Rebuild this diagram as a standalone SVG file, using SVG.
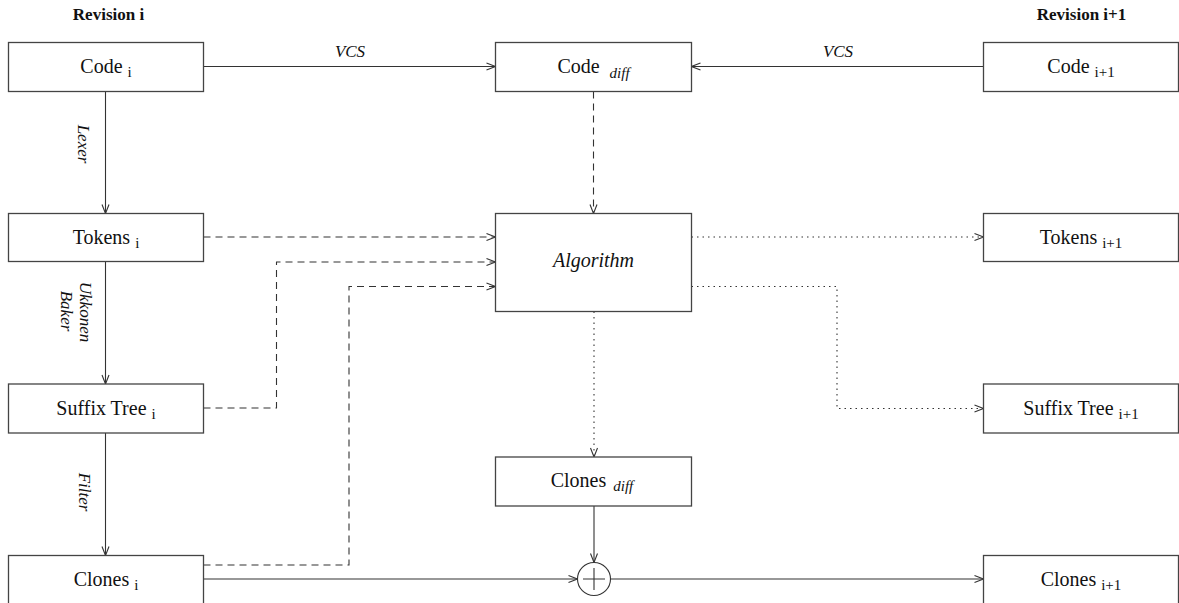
<svg xmlns="http://www.w3.org/2000/svg" width="1179" height="603" viewBox="0 0 1179 603">
<style>
  .box { fill: #fff; stroke: #444; stroke-width: 1.3; }
  .lbl { font-family: "Liberation Serif", "Times New Roman", serif; font-size: 20px; fill: #111; text-anchor: middle; }
  .sub { font-size: 15px; }
  .subi { font-size: 15px; font-style: italic; }
  .ital { font-family: "Liberation Serif", "Times New Roman", serif; font-size: 17px; font-style: italic; fill: #111; text-anchor: middle; }
  .head { font-family: "Liberation Serif", "Times New Roman", serif; font-size: 17px; font-weight: bold; fill: #111; text-anchor: middle; }
  .c { fill: none; stroke: #333; stroke-width: 1.1; }
  .solid { marker-end: url(#arr); }
  .dash { stroke-dasharray: 7 5; marker-end: url(#arr); }
  .dot { stroke-dasharray: 1.5 4; marker-end: url(#arr); }
</style>
<defs>
  <marker id="arr" markerUnits="userSpaceOnUse" markerWidth="12" markerHeight="10" viewBox="0 0 12 10" refX="11" refY="5" orient="auto">
    <path d="M2,1.5 L11,5 L2,8.5" fill="none" stroke="#333" stroke-width="1.1"/>
  </marker>
</defs>
<rect width="1179" height="603" fill="#fff"/>

<text class="head" x="108.5" y="19.5">Revision i</text>
<text class="head" x="1081.5" y="19.5">Revision i+1</text>

<g id="connectors">
  <path class="c solid" d="M203.5,66.5 H495.5"/>
  <text class="ital" x="350" y="57">VCS</text>
  <path class="c solid" d="M983.5,66.5 H691.5"/>
  <text class="ital" x="838" y="57">VCS</text>
  <path class="c solid" d="M105.5,91.5 V213.5"/>
  <text class="ital" transform="translate(78,144) rotate(90)">Lexer</text>
  <path class="c solid" d="M105.5,261.5 V384"/>
  <text class="ital" transform="translate(79.5,312) rotate(90)">Ukkonen</text>
  <text class="ital" transform="translate(60.5,311) rotate(90)">Baker</text>
  <path class="c solid" d="M105.5,433 V555.5"/>
  <text class="ital" transform="translate(78.5,492) rotate(90)">Filter</text>
  <path class="c dash" d="M203.5,237 H495.5"/>
  <path class="c dash" d="M203.5,408 H276.5 V262 H495.5"/>
  <path class="c dash" d="M203.5,565 H349 V286.5 H495.5"/>
  <path class="c dash" d="M593.5,91.5 V213.5"/>
  <path class="c dot" d="M691.5,237 H983.5"/>
  <path class="c dot" d="M691.5,286.5 H837 V408.5 H983.5"/>
  <path class="c dot" d="M594,311.5 V457"/>
  <path class="c solid" d="M594,506 V562.5"/>
  <path class="c solid" d="M203.5,579 H577.5"/>
  <path class="c solid" d="M610.5,579 H983.5"/>
</g>

<g id="code-i">
  <rect class="box" x="8.5" y="42.5" width="195" height="49"/>
  <text class="lbl" x="106" y="73">Code <tspan class="sub" dy="4">i</tspan></text>
</g>
<g id="code-diff">
  <rect class="box" x="495.5" y="42.5" width="196" height="49"/>
  <text class="lbl" x="593.5" y="73">Code <tspan class="subi" dx="5" dy="5">diff</tspan></text>
</g>
<g id="code-i1">
  <rect class="box" x="983.5" y="42.5" width="195" height="49"/>
  <text class="lbl" x="1081" y="73">Code <tspan class="sub" dy="4">i+1</tspan></text>
</g>
<g id="tokens-i">
  <rect class="box" x="8.5" y="213.5" width="195" height="48"/>
  <text class="lbl" x="106" y="244">Tokens <tspan class="sub" dy="4">i</tspan></text>
</g>
<g id="algorithm">
  <rect class="box" x="495.5" y="213.5" width="196" height="98"/>
  <text class="lbl" x="593.5" y="267" font-style="italic">Algorithm</text>
</g>
<g id="tokens-i1">
  <rect class="box" x="983.5" y="213.5" width="195" height="48"/>
  <text class="lbl" x="1081" y="244">Tokens <tspan class="sub" dy="4">i+1</tspan></text>
</g>
<g id="suffix-i">
  <rect class="box" x="8.5" y="384" width="195" height="49"/>
  <text class="lbl" x="106" y="415">Suffix Tree <tspan class="sub" dy="4">i</tspan></text>
</g>
<g id="suffix-i1">
  <rect class="box" x="983.5" y="384" width="195" height="49"/>
  <text class="lbl" x="1081" y="415">Suffix Tree <tspan class="sub" dy="4">i+1</tspan></text>
</g>
<g id="clones-diff">
  <rect class="box" x="495.5" y="457" width="196" height="49"/>
  <text class="lbl" x="592" y="487">Clones <tspan class="subi" dx="2" dy="4">diff</tspan></text>
</g>
<g id="plus">
  <circle cx="594" cy="579" r="16.5" fill="#fff" stroke="#333" stroke-width="1.1"/>
  <path d="M583,579 H605 M594,568 V590" stroke="#333" stroke-width="1.1" fill="none"/>
</g>
<g id="clones-i">
  <rect class="box" x="8.5" y="555.5" width="195" height="50"/>
  <text class="lbl" x="106" y="586">Clones <tspan class="sub" dy="4">i</tspan></text>
</g>
<g id="clones-i1">
  <rect class="box" x="983.5" y="555.5" width="195" height="50"/>
  <text class="lbl" x="1081" y="586">Clones <tspan class="sub" dy="4">i+1</tspan></text>
</g>
</svg>
